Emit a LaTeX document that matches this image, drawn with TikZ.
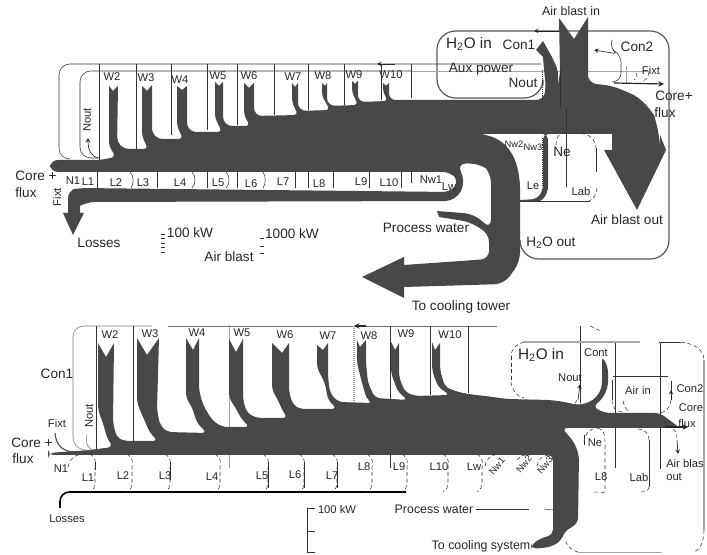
\documentclass[tikz,border=0pt]{standalone}
\usepackage{fontspec}
\setmainfont{Liberation Sans}
\usetikzlibrary{arrows}
\definecolor{myDark}{HTML}{484848}
\tikzset{
myFlow/.style={
	fill=myDark,draw=none,rounded corners=4pt
}
, myWall/.style={draw=black!65,line width=0.9pt,rounded corners=14pt}
, myGrid/.style={draw=black!80,line width=0.4pt}
, myPale/.style={draw=black!35,line width=0.5pt}
, myDash/.style={draw=black!80,line width=0.4pt,densely dashed}
, myStub/.style={->,>=stealth,draw=black!85,line width=0.5pt}
, myText/.style={inner sep=0pt,text=black!85,font=\fontsize{10.2}{12}\selectfont}
, myMid/.style={inner sep=0pt,text=black!85,font=\fontsize{9.3}{11}\selectfont}
, mySmall/.style={inner sep=0pt,text=black!85,font=\fontsize{8.4}{10}\selectfont}
, myTiny/.style={inner sep=0pt,text=black!85,font=\fontsize{7}{8}\selectfont}
}
\begin{document}
\begin{tikzpicture}[x=0.75pt,y=-0.75pt]
	\useasboundingbox (0,0) rectangle (707,555);

	% upper panel: frame lines
	\draw[myWall] (534,31) -- (669,31) -- (669,259) -- (520,259) -- (520,240);
	\draw[myWall] (534,31) -- (437,31) -- (437,98) -- (543,98) -- (543,85);
	\draw[myStub] (560,31) -- (534,31);
	\draw[myGrid,rounded corners=8pt] (541,64) -- (59,64) -- (59,159) -- (70,159);
	\draw[myStub] (395,64) -- (377,64);
	\draw[myGrid,rounded corners=8pt] (411,71) -- (80,71) -- (80,158) -- (100,158);
	\draw[myPale] (411,71) -- (650,71);
	\draw[myPale] (626,66) -- (626,83);
	\foreach \x/\y in {99/160,136/149,171/135,207/130,237/125,274/115,308/110,344/105,381/100,411/98}
		\draw[myGrid] (\x,64) -- (\x,\y);
	\foreach \x/\y/\z in {97/172/188,157/172/188,207/172/188,237/172/188,295/172/188,308/172/188,333/172/188,369/172/188,401/172/188,411/172/183}
		\draw[myGrid] (\x,\y) -- (\x,\z);
	\draw[myGrid] (130,172) .. controls (134,176) and (134,184) .. (131,188);
	\draw[myGrid] (192,172) .. controls (196,176) and (196,184) .. (192,188);
	\draw[myGrid] (226,172) .. controls (230,176) and (230,184) .. (226,188);
	\draw[myGrid] (263,172) .. controls (266,176) and (266,184) .. (263,188);

	% upper panel: main stream with its inlets
	\fill[myFlow] (50,160) -- (100,160) -- (116,157) [rounded corners=3pt] -- (109,146)
		[sharp corners] -- (109,86) -- (113,91) -- (118,86)
		[rounded corners=9pt] -- (117,149) [rounded corners=3pt] -- (148,149) -- (142,136)
		[sharp corners] -- (142,86) -- (147,91) -- (152,85)
		[rounded corners=8pt] -- (152,139) [rounded corners=3pt] -- (183,139) -- (177,126)
		[sharp corners] -- (177,86) -- (182,90) -- (187,86)
		[rounded corners=7pt] -- (187,132) [rounded corners=3pt] -- (222,132) -- (215,118)
		[sharp corners] -- (215,82) -- (219,86) -- (223,82)
		[rounded corners=7pt] -- (223,126) [rounded corners=3pt] -- (250,126) -- (244,115)
		[sharp corners] -- (244,83) -- (249,88) -- (254,83)
		[rounded corners=6pt] -- (254,116) [rounded corners=3pt] -- (298,115) -- (292,102)
		[sharp corners] -- (292,83) -- (295,87) -- (298,83)
		[rounded corners=6pt] -- (298,111) [rounded corners=3pt] -- (330,110) -- (322,96)
		[sharp corners] -- (322,83) -- (325,86) -- (327,83)
		[rounded corners=6pt] -- (327,106) [rounded corners=3pt] -- (358,105) -- (352,92)
		[sharp corners] -- (352,81) -- (355,84) -- (358,81)
		[rounded corners=5pt] -- (358,102) [rounded corners=3pt] -- (388,101) -- (383,92)
		[sharp corners] -- (383,83) -- (386,86) -- (389,83)
		[rounded corners=5pt] -- (389,100) -- (535,100) -- (543,100) -- (546,88) -- (544,70)
		[sharp corners] -- (543,57) -- (536,50) -- (543,41) -- (552,57)
		[rounded corners=4pt] -- (558,70) -- (558,90) -- (555,108)
		[sharp corners] -- (560,72) -- (559,18) -- (574,39) -- (588,17)
		[rounded corners=6pt] -- (588,83) -- (613,86)
		[rounded corners=14pt] -- (648,101) -- (660,130)
		[sharp corners] -- (660,135) -- (666,150) -- (637,210) -- (604,150)
		-- (612,150) -- (612,134) -- (482,134)
		[rounded corners=7pt] -- (500,139) -- (514,155) -- (520,178) -- (520,262) -- (504,284)
		[sharp corners] -- (404,287) -- (404,298) -- (362,277) -- (404,257) -- (404,265)
		[rounded corners=6pt] -- (489,259) -- (489,234) -- (470,222)
		[sharp corners] -- (439,217) -- (437,211)
		[rounded corners=8pt] -- (475,214) -- (491,230) -- (491,172) -- (482,164)
		-- (456,163) -- (466,181) -- (456,201) -- (84,202)
		[sharp corners] -- (80,205) -- (80,213) -- (84,213) -- (73,235) -- (63,213) -- (68,213)
		[rounded corners=6pt] -- (68,190) -- (80,188) -- (451,192) -- (459,182) -- (451,172) -- (50,172) -- cycle;

	% upper panel: thin loss arcs
	\fill[myFlow] (543,134) -- (548,134) -- (548,192) -- (541,202) [sharp corners] -- (520,202) -- (520,200) [rounded corners=4pt] -- (537,199) -- (543,190) -- cycle;
	\draw[myGrid] (520,201) -- (590,201);
	\draw[myGrid,densely dotted,line width=0.7pt] (542,138) -- (542,185);
	\draw[myGrid,densely dotted,line width=0.7pt] (542,97) -- (542,70);
	\draw[myGrid] (560,70) -- (560,108);
	\draw[myGrid] (566,108) -- (566,187);
	\draw[myDash] (556,145) .. controls (556,136) and (560,133) .. (565,133) -- (585,134) .. controls (592,136) and (596,142) .. (596,148);
	\draw[myGrid] (596,148) -- (596,172);
	\draw[myDash] (597,188) .. controls (596,195) and (594,199) .. (589,201);
	\draw[myStub,line width=0.9pt] (614,83) -- (664,84);
	\draw[myStub,rounded corners=4pt] (612,40) -- (611,49) -- (618,54) -- (594,50);
	\draw[myGrid,rounded corners=5pt] (613,50) -- (621,56) -- (621,80) -- (612,82);
	\draw[myDash] (636,73) .. controls (638,76) and (637,78) .. (634,80);
	\draw[myDash] (649,72) .. controls (648,78) and (646,80) .. (642,81);
	\draw[myStub] (98,158) .. controls (91,156) and (88,150) .. (88,138);

	% upper panel: scale ticks
	\foreach \y in {234,238,243,247,252}
		\draw[myGrid] (161,\y) -- (165,\y);
	\foreach \y in {238,246,253}
		\draw[myGrid] (260,\y) -- (264,\y);

	% upper panel: labels
	\foreach \lab/\x/\y in {W2/112/77,W3/146/78,W4/180/80,W5/218/76,W6/249/76,W7/293/77,W8/323/76,W9/354/75,W10/391/75,L2/116/183,L3/143/183,L4/180/183,L5/218/183,L6/251/184,L7/283/182,L8/319/184,L9/361/182,L10/389/183,L1/88/182,N1/73/181,Le/533/186,Lab/581/192}
		\node[mySmall] (top\lab) at (\x,\y) {\lab};
	\node[mySmall] (topNw1) at (431,180) {Nw1};
	\node[mySmall] (topLw) at (449,187) {Lw};
	\node[myTiny] (topNw2) at (514,144) {Nw2};
	\node[myTiny] (topNw3) at (533,147) {Nw3};
	\node[myText] (topNe) at (562,152) {Ne};
	\node[myText] (topCore) at (36,176) {Core +};
	\node[myText] (topFlux) at (26,193) {flux};
	\node[mySmall,rotate=90] (topFixt) at (57,197) {Fixt};
	\node[mySmall,rotate=90] (topNout) at (87,120) {Nout};
	\node[myText] (topLosses) at (99,243) {Losses};
	\node[myText] (top100) at (190,233) {100 kW};
	\node[myText] (top1000) at (292,234) {1000 kW};
	\node[myText] (topAirblast) at (229,257) {Air blast};
	\node[myText] (topWater) at (426,228) {Process water};
	\node[myText] (topTower) at (461,307) {To cooling tower};
	\node[myText] (topH2Oout) at (551,243) {H\textsubscript{2}O out};
	\node[myText] (topBlastout) at (627,220) {Air blast out};
	\node[myText] (topCorePlus) at (674,96) {Core+};
	\node[myText] (topFluxR) at (665,113) {flux};
	\node[mySmall] (topFixtR) at (651,70) {Fixt};
	\node[myText] (topCon2) at (637,47) {Con2};
	\node[myText] (topCon1) at (519,45) {Con1};
	\node[myText,font=\fontsize{11.5}{13}\selectfont] (topH2Oin) at (469,44) {H\textsubscript{2}O in};
	\node[myText] (topAux) at (481,69) {Aux power};
	\node[myText] (topNoutR) at (523,83) {Nout};
	\node[myMid] (topBlastin) at (571,11) {Air blast in};

	% lower panel: frame lines
	\draw[myGrid,draw=black!55,rounded corners=8pt] (152,326) -- (73,326) -- (73,448) -- (96,452);
	\draw[myGrid,draw=black!55] (168,326) -- (497,326);
	\draw[myStub,line width=0.8pt] (366,326) -- (354,326);
	\foreach \x/\y in {96/452,133/452,390/399,430/395,468/393,580/403}
		\draw[myGrid] (\x,326) -- (\x,\y);
	\draw[myPale,line width=0.7pt] (229,325) -- (229,468);
	\draw[myPale,densely dotted,line width=0.8pt] (354,326) -- (354,402);
	\draw[myPale,line width=0.8pt] (524,342) -- (640,342);
	\draw[myGrid] (659,342) -- (681,342);
	\draw[myDash] (681,342) .. controls (695,344) and (704,350) .. (704,360);
	\draw[myPale,line width=0.9pt] (704,360) -- (704,530);
	\draw[myDash] (704,530) .. controls (704,542) and (700,550) .. (694,552);
	\draw[myPale,line width=0.7pt] (578,552) -- (662,552);
	\draw[myDash] (578,552) .. controls (570,550) and (566,545) .. (565,538);
	\draw[myDash] (524,342) .. controls (516,344) and (511,350) .. (511,356);
	\draw[myDash] (511,356) -- (511,382);
	\draw[myDash] (511,382) .. controls (512,390) and (516,396) .. (524,398);
	\draw[myDash] (590,326) .. controls (594,328) and (600,330) .. (601,332);
	\draw[myGrid] (615,343) -- (615,468);
	\draw[myGrid] (660,342) -- (660,469);
	\draw[myGrid] (613,376) -- (668,376);
	\draw[myGrid] (612,380) -- (612,400);
	\draw[myDash] (612,400) .. controls (612,408) and (616,411) .. (622,412);
	\draw[myGrid] (671,381) -- (671,400);
	\draw[myDash] (671,400) .. controls (670,408) and (666,412) .. (660,413);
	\draw[myDash] (623,401) .. controls (624,406) and (626,409) .. (628,411);
	\draw[myStub] (671,400) -- (671,390);
	\draw[myStub] (578,400) -- (580,384);
	\draw[myDash] (577,400) .. controls (575,404) and (573,406) .. (571,407);

	% lower panel: main stream with its inlets
	\fill[myFlow] (48,453) -- (90,450) -- (113,447) -- (107,438) -- (103,423) -- (98,410)
		[sharp corners] -- (98,343) -- (106,357) -- (114,343)
		[rounded corners=4pt] -- (113,423) -- (117,438) -- (125,441) -- (158,441) -- (150,433) -- (143,417) -- (137,403)
		[sharp corners] -- (137,338) -- (147,355) -- (159,338)
		[rounded corners=4pt] -- (157,410) -- (160,425) -- (167,432) -- (207,433) -- (197,423) -- (192,407) -- (186,398)
		[sharp corners] -- (186,338) -- (193,350) -- (199,338)
		[rounded corners=4pt] -- (199,390) -- (203,405) -- (212,420) -- (222,427) -- (250,427) -- (242,420) -- (235,407) -- (229,398)
		[sharp corners] -- (229,339) -- (236,352) -- (243,339)
		[rounded corners=4pt] -- (243,400) -- (247,413) -- (257,418) -- (288,418) -- (283,412) -- (278,400) -- (272,390)
		[sharp corners] -- (272,343) -- (282,353) -- (289,343)
		[rounded corners=4pt] -- (289,392) -- (293,405) -- (300,409) -- (337,409) -- (328,400) -- (325,383) -- (317,368)
		[sharp corners] -- (317,345) -- (323,350) -- (328,343)
		[rounded corners=4pt] -- (328,377) -- (330,393) -- (338,402) -- (373,403) -- (367,400) -- (362,383) -- (357,363)
		[sharp corners] -- (357,340) -- (360,347) -- (366,340)
		[rounded corners=4pt] -- (366,363) -- (368,383) -- (375,398) -- (408,400) -- (398,392) -- (391,373)
		[sharp corners] -- (391,342) -- (395,350) -- (399,343)
		[rounded corners=4pt] -- (399,377) -- (405,392) -- (415,396) -- (450,395) -- (438,387) -- (432,370)
		[sharp corners] -- (432,342) -- (435,350) -- (440,343)
		[rounded corners=4pt] -- (440,370) -- (445,387) -- (458,392) -- (468,394) -- (493,397) -- (507,399)
		-- (550,400) -- (565,402) -- (577,405) -- (588,403) -- (597,397) -- (602,387) -- (602,356) -- (608,367)
		-- (608,387) -- (603,398) -- (593,407) -- (605,413) -- (660,413) -- (672,422) -- (680,428)
		-- (562,428) -- (574,442) -- (579,455) -- (578,523) -- (564,532) -- (562,540) -- (551,547)
		-- (531,549) -- (531,545) -- (541,538) -- (553,535) -- (553,455) -- (48,455) -- cycle;

	% lower panel: loss arcs
	\draw[black,line width=1.2pt,rounded corners=7pt] (406,492) -- (60,492) -- (60,508);
	\foreach \x in {95,132,170,220,268,304,337,372,407,448,482}
		\draw[myDash] (\x-5,454) .. controls (\x+1,458) and (\x+1,462) .. (\x,468) -- (\x,482) .. controls (\x,488) and (\x-2,490) .. (\x-5,492);
	\foreach \x/\yy in {268/488,304/488,337/488,95/470,170/480}
		\draw[myGrid] (\x,462) -- (\x,\yy);
	\draw[myGrid] (390,455) -- (390,468);
	\draw[myDash] (68,467) .. controls (70,458) and (76,454) .. (85,454);
	\draw[myDash] (485,466) .. controls (487,458) and (490,455) .. (500,454);
	\draw[myDash] (517,460) .. controls (520,456) and (524,454) .. (530,455);
	\draw[myDash] (537,466) .. controls (538,459) and (542,455) .. (552,455);
	\draw[myDash] (584,442) .. controls (584,434) and (590,428) .. (598,428);
	\draw[myGrid] (584,435) -- (584,445);
	\draw[myDash] (598,428) .. controls (604,430) and (605,434) .. (605,445) -- (605,490) .. controls (605,494) and (603,492) .. (594,492);
	\draw[myDash] (638,429) .. controls (646,430) and (649,434) .. (649,440);
	\draw[myGrid] (649,440) -- (649,487);
	\draw[myDash] (649,487) .. controls (648,491) and (646,492) .. (641,492);
	\draw[myDash] (673,429) .. controls (677,432) and (677,436) .. (677,440);
	\draw[myStub] (677,440) -- (678,454);
	\draw[myStub,line width=0.8pt] (665,427) -- (688,427);
	\draw[myDark,line width=0.8pt] (55,433) .. controls (56,443) and (60,450) .. (72,452);
	\draw[myGrid,draw=black!55] (87,435) .. controls (85,444) and (88,448) .. (93,450);
	\draw[myGrid] (476,509) -- (529,509);
	\draw[myGrid] (544,509) -- (553,510);
	\draw[myGrid] (307,508) -- (307,552) -- (315,552);
	\draw[myGrid] (307,508) -- (315,508);
	\draw[myGrid] (307,531) -- (315,531);

	% lower panel: labels
	\foreach \lab/\x/\y in {W2/110/335,W3/150/334,W4/197/333,W5/242/333,W6/285/335,W7/328/336,W8/369/336,W9/406/334,W10/450/335,L1/88/478,L2/123/476,L3/165/476,L4/212/477,L5/262/476,L6/295/475,L7/332/476,L9/399/467,L10/439/467,Lw/474/467,N1/61/469,Ne/595/443,Lab/639/477,Con2/690/389}
		\node[mySmall] (low\lab) at (\x,\y) {\lab};
	\node[mySmall] (lowLeft) at (364,467) {L8};
	\node[mySmall] (lowLright) at (601,477) {L8};
	\foreach \lab/\x/\y in {Nw1/497/466,Nw2/524/464,Nw3/545/465}
		\node[myTiny,rotate=50] (low\lab) at (\x,\y) {\lab};
	\node[myText] (lowCon1) at (57,374) {Con1};
	\node[mySmall] (lowFixt) at (57,423) {Fixt};
	\node[myText] (lowCore) at (32,443) {Core +};
	\node[myText] (lowFlux) at (23,459) {flux};
	\node[mySmall,rotate=90] (lowNout) at (89,416) {Nout};
	\node[mySmall] (lowLosses) at (67,519) {Losses};
	\node[mySmall] (low100) at (337,509) {100 kW};
	\node[myMid] (lowWater) at (434,509) {Process water};
	\node[myMid] (lowSystem) at (481,546) {To cooling system};
	\node[myText,font=\fontsize{11.5}{13}\selectfont] (lowH2Oin) at (541,355) {H\textsubscript{2}O in};
	\node[mySmall] (lowCont) at (596,353) {Cont};
	\node[mySmall] (lowNoutR) at (570,378) {Nout};
	\node[mySmall] (lowAirin) at (638,390) {Air in};
	\node[mySmall] (lowCoreR) at (691,408) {Core};
	\node[mySmall] (lowFluxR) at (687,423) {flux};
	\node[mySmall,anchor=west] (lowBlas) at (666,463) {Air blas};
	\node[mySmall,anchor=west] (lowOut) at (666,477) {out};
\end{tikzpicture}
\end{document}
